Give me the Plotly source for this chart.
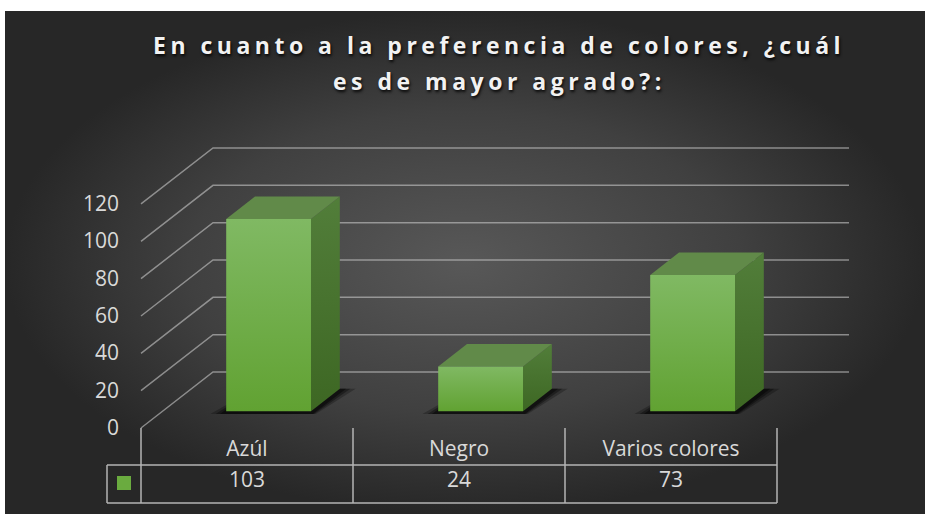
import plotly.graph_objects as go

# ---------------- data ----------------
categories = ["Azúl", "Negro", "Varios colores"]
values = [103, 24, 73]
y_ticks = [0, 20, 40, 60, 80, 100, 120]
y_tick_labels = ["0", "20", "40", "60", "80", "100", "120"]
title_lines = ["En cuanto a la preferencia de colores, ¿cuál", "es de mayor agrado?:"]

# ---------------- geometry (styling) ----------------
W, H = 926, 514
PX_X = 212.0      # pixels per category
PX_Y = 1.867      # pixels per value unit
X_LEFT_PX = 141   # pixel of category boundary -0.5
Y_ZERO_PX = 428   # pixel of value 0 on the front plane


def px_to_x(p):
    return (p - X_LEFT_PX) / PX_X - 0.5


def px_to_y(q):
    return (Y_ZERO_PX - q) / PX_Y


DX = 72 / PX_X    # depth offset (x) of the back wall
DY = 56 / PX_Y    # depth offset (y) of the back wall


def proj(x, v, d):
    return x + d * DX, v + d * DY


def poly(points):
    xs = [p[0] for p in points] + [points[0][0]]
    ys = [p[1] for p in points] + [points[0][1]]
    return xs, ys


fig = go.Figure()

# background with radial gradient
bx, by = poly([(px_to_x(5), px_to_y(11)), (px_to_x(925), px_to_y(11)),
               (px_to_x(925), px_to_y(514)), (px_to_x(5), px_to_y(514))])
fig.add_trace(go.Scatter(
    x=bx, y=by, mode="lines", line=dict(width=0), fill="toself",
    fillgradient=dict(type="radial",
                      colorscale=[[0, "#585858"], [0.6, "#404040"], [1, "#272727"]]),
    hoverinfo="skip", showlegend=False))

# gridlines: side wall diagonal + back wall horizontal
gx, gy = [], []
n = len(categories)
for t in y_ticks:
    p0 = proj(-0.5, t, 0)
    p1 = proj(-0.5, t, 1)
    p2 = proj(n - 0.5, t, 1)
    gx += [p0[0], p1[0], p2[0], None]
    gy += [p0[1], p1[1], p2[1], None]
fig.add_trace(go.Scatter(x=gx, y=gy, mode="lines",
                         line=dict(color="rgba(200,200,200,0.6)", width=1.5),
                         hoverinfo="skip", showlegend=False))

# bars (3D look)
HALF = 0.2
D0, D1 = 0.3, 0.7
for i, v in enumerate(values):
    xl, xr = i - HALF, i + HALF
    # shadow on the floor
    for grow, op in [(0.075, 0.25), (0.05, 0.35), (0.03, 0.45)]:
        sx, sy = poly([proj(xl - grow, -1.5, D0), proj(xr + grow * 0.3, -1.5, D0),
                       proj(xr + grow, 0, D1), proj(xl, 0, D1)])
        fig.add_trace(go.Scatter(x=sx, y=sy, mode="lines", line=dict(width=0),
                                 fill="toself", fillcolor=f"rgba(0,0,0,{op})",
                                 hoverinfo="skip", showlegend=False))
    # side face
    sx, sy = poly([proj(xr, 0, D0), proj(xr, 0, D1), proj(xr, v, D1), proj(xr, v, D0)])
    fig.add_trace(go.Scatter(x=sx, y=sy, mode="lines", line=dict(width=0), fill="toself",
                             fillgradient=dict(type="vertical",
                                               colorscale=[[0, "#3d6723"], [1, "#527e3a"]]),
                             hoverinfo="skip", showlegend=False))
    # top face
    tx, ty = poly([proj(xl, v, D0), proj(xr, v, D0), proj(xr, v, D1), proj(xl, v, D1)])
    fig.add_trace(go.Scatter(x=tx, y=ty, mode="lines", line=dict(width=0), fill="toself",
                             fillcolor="#618a49", hoverinfo="skip", showlegend=False))
    # front face
    fx, fy = poly([proj(xl, 0, D0), proj(xr, 0, D0), proj(xr, v, D0), proj(xl, v, D0)])
    fig.add_trace(go.Scatter(x=fx, y=fy, mode="lines", line=dict(width=0), fill="toself",
                             fillgradient=dict(type="vertical",
                                               colorscale=[[0, "#61a232"], [1, "#80b963"]]),
                             hoverinfo="skip", showlegend=False))

TXT = dict(family="Open Sans", size=21, color="#d9d9d9")

# value axis tick labels
fig.add_trace(go.Scatter(
    x=[px_to_x(119)] * len(y_ticks), y=[t - 1 for t in y_ticks], mode="text",
    text=y_tick_labels, textposition="middle left", textfont=TXT,
    hoverinfo="skip", showlegend=False))

# data table
row1_top = px_to_y(428)
row_mid = px_to_y(465)
row_bot = px_to_y(503)
key_left = px_to_x(107)
lx, ly = [], []
for b in range(n + 1):
    lx += [b - 0.5, b - 0.5, None]
    ly += [row1_top, row_bot, None]
for yy in (row_mid, row_bot):
    lx += [key_left, n - 0.5, None]
    ly += [yy, yy, None]
lx += [key_left, key_left, None]
ly += [row_mid, row_bot, None]
fig.add_trace(go.Scatter(x=lx, y=ly, mode="lines",
                         line=dict(color="#b4b4b4", width=1.5),
                         hoverinfo="skip", showlegend=False))

fig.add_trace(go.Scatter(
    x=list(range(n)), y=[px_to_y(451)] * n, mode="text", text=categories,
    textposition="middle center", textfont=TXT,
    hoverinfo="skip", showlegend=False))
fig.add_trace(go.Scatter(
    x=list(range(n)), y=[px_to_y(482)] * n, mode="text", text=[str(v) for v in values],
    textposition="middle center", textfont=TXT,
    hoverinfo="skip", showlegend=False))
# legend key
fig.add_trace(go.Scatter(
    x=[(key_left + -0.5) / 2], y=[px_to_y(483)], mode="markers",
    marker=dict(symbol="square", size=14, color="#6aab3f", line=dict(width=0)),
    hoverinfo="skip", showlegend=False))

# title
for k, (line, ypx) in enumerate(zip(title_lines, [45, 81])):
    fig.add_annotation(
        x=499 / W, y=1 - ypx / H, xref="paper", yref="paper",
        xanchor="center", yanchor="middle", showarrow=False,
        text=f'<span style="letter-spacing:4.5px">{line}</span>',
        font=dict(family="Open Sans", size=23, color="#f2f2f2", weight="bold",
                  shadow="1px 2px 3px rgba(0,0,0,0.9)"))

fig.update_layout(
    width=W, height=H, autosize=False,
    margin=dict(l=0, r=0, t=0, b=0),
    paper_bgcolor="white", plot_bgcolor="rgba(0,0,0,0)",
    xaxis=dict(range=[px_to_x(0), px_to_x(W)], visible=False, fixedrange=True),
    yaxis=dict(range=[px_to_y(H), px_to_y(0)], visible=False, fixedrange=True),
    hovermode=False, showlegend=False)

fig.write_html("out.html")
